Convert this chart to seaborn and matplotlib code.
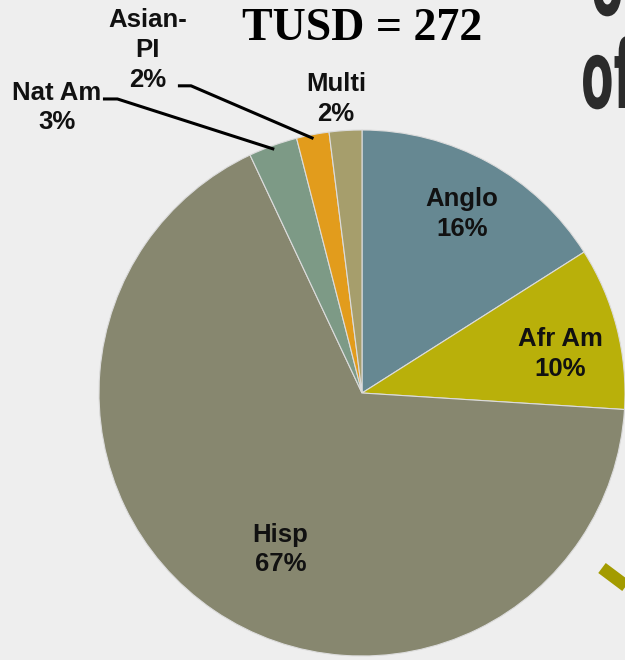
"""
Ethnic breakdown pie for TUSD (n = 272).
Run: python plot.py
"""
import numpy as np
import matplotlib.pyplot as plt
from matplotlib.lines import Line2D
from matplotlib.patches import PathPatch
from matplotlib.textpath import TextPath
from matplotlib.font_manager import FontProperties
from matplotlib.transforms import Affine2D, IdentityTransform
import seaborn as sns

labels = ['Anglo', 'Afr Am', 'Hisp', 'Nat Am', 'Asian-\nPI', 'Multi']
shares = [16, 10, 67, 3, 2, 2]
colors = ['#668892', '#b9b00a', '#87876f', '#7d9a86', '#e29c1c', '#a69e6c']
title = 'TUSD = 272'

# label offsets in pie radius units
inside_pos = {'Anglo': (0.38, 0.68), 'Afr Am': (0.755, 0.148), 'Hisp': (-0.31, -0.595)}
outside_pos = {'Nat Am': (-1.16, 1.085), 'Asian-\nPI': (-0.814, 1.304), 'Multi': (-0.099, 1.118)}

BG = '#eeeeee'

sns.set_theme(style='white')
plt.rcParams['font.family'] = ['Liberation Sans', 'DejaVu Sans']

W, H = 625, 660
fig = plt.figure(figsize=(W / 100, H / 100), dpi=100, facecolor=BG)

# pie centre (362, 393) px, radius 263 px
cx, cy, r = 362, 393, 263
ax = fig.add_axes([(cx - r) / W, (H - cy - r) / H, 2 * r / W, 2 * r / H])
ax.set_facecolor('none')

wedges, _ = ax.pie(shares, colors=colors, startangle=90, counterclock=False,
                   radius=1, wedgeprops=dict(edgecolor='#dcdcdc', linewidth=0.8))
ax.set_xlim(-1, 1)
ax.set_ylim(-1, 1)
ax.axis('off')

for lab, val in zip(labels, shares):
    txt = f'{lab}\n{val}%'
    if lab in inside_pos:
        x, y = inside_pos[lab]
    else:
        x, y = outside_pos[lab]
    ax.text(x, y, txt, ha='center', va='center', fontsize=18.5,
            fontweight='bold', color='#111111', linespacing=1.3, clip_on=False)

# leader lines for the two thin slices on the upper left
leaders = {'Nat Am': (-0.985, -0.93, 1.118), 'Asian-\nPI': (-0.70, -0.65, 1.168)}
for lab, (x0, x1, y0) in leaders.items():
    w = wedges[labels.index(lab)]
    mid = np.deg2rad((w.theta1 + w.theta2) / 2)
    ex, ey = 0.985 * np.cos(mid), 0.985 * np.sin(mid)
    ax.plot([x0, x1, ex], [y0, y0, ey], color='black', lw=2.2,
            solid_capstyle='butt', clip_on=False)

fig.text(cx / W, 1 - 29 / H, title, ha='center', va='center',
         fontsize=33, fontweight='bold', family='Liberation Serif', color='black')

# cropped slide heading on the right edge, drawn as a condensed glyph path
fp = FontProperties(family='DejaVu Sans', weight='bold')
for word, (px, base) in {'of': (581, H - 108), 'o': (591, H - 15)}.items():
    tp = TextPath((0, 0), word, size=95, prop=fp)
    tr = Affine2D().scale(0.5, 1.0).translate(px, base)
    fig.add_artist(PathPatch(tr.transform_path(tp), transform=IdentityTransform(),
                             facecolor='#2b2b2b', edgecolor='none'))

fig.add_artist(Line2D([602 / W, 630 / W], [1 - 568 / H, 1 - 589 / H],
                      color='#a39b00', lw=9, solid_capstyle='butt'))

fig.savefig('out.png', dpi=100, facecolor=BG)
